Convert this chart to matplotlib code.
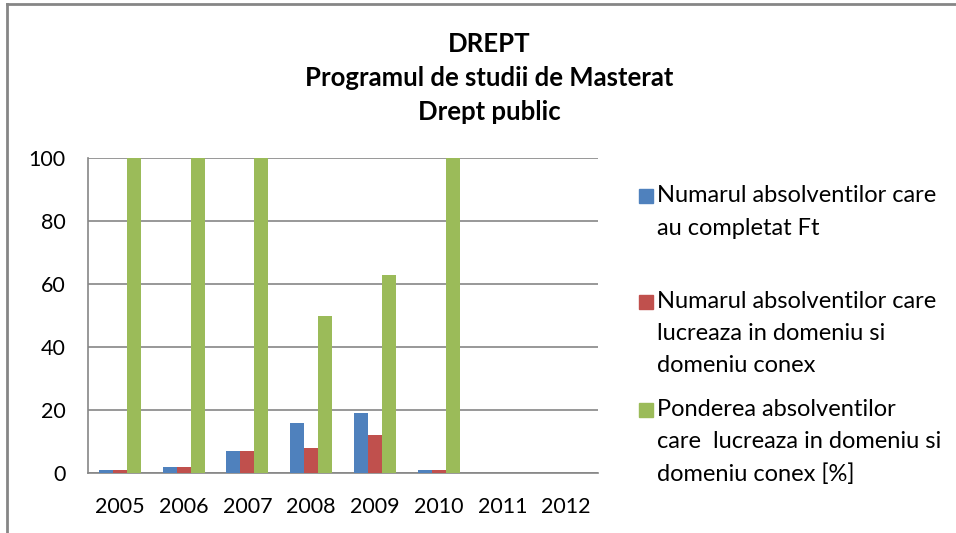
import numpy as np
import matplotlib
matplotlib.use("Agg")
import matplotlib.pyplot as plt
from matplotlib.lines import Line2D
from matplotlib.patches import Rectangle

plt.rcParams['font.family'] = ['Lato', 'DejaVu Sans']

years = ['2005', '2006', '2007', '2008', '2009', '2010', '2011', '2012']
completat = [1, 2, 7, 16, 19, 1, 0, 0]
lucreaza = [1, 2, 7, 8, 12, 1, 0, 0]
pondere = [100, 100, 100, 50, 63, 100, 0, 0]

labels = ['Numarul absolventilor care\nau completat Ft',
          'Numarul absolventilor care\nlucreaza in domeniu si\ndomeniu conex',
          'Ponderea absolventilor\ncare  lucreaza in domeniu si\ndomeniu conex [%]']
colors = ['#4F81BD', '#C0504D', '#9BBB59']

W, H = 956, 533
fig = plt.figure(figsize=(W/100, H/100), dpi=100)
ax = fig.add_axes([88/W, 1-473/H, (598-88)/W, (473-158)/H])

x = np.arange(len(years))
bw = 0.22
for i, vals in enumerate([completat, lucreaza, pondere]):
    ax.bar(x + (i-1)*bw, vals, bw, color=colors[i], zorder=3)

ax.set_xlim(-0.5, len(years)-0.5)
ax.set_ylim(0, 100)
ax.set_yticks(range(0, 101, 20))
ax.set_xticks(x)
ax.set_xticklabels(years)
ax.tick_params(length=0, labelsize=15.5)
ax.tick_params(axis='y', pad=16)
ax.tick_params(axis='x', pad=17)
ax.grid(axis='y', color='#868686', lw=1.2, zorder=0)
for s in ['top', 'right']:
    ax.spines[s].set_visible(False)
for s in ['left', 'bottom']:
    ax.spines[s].set_color('#868686')
    ax.spines[s].set_linewidth(1.2)

# title
for txt, yy in [('DREPT', 44), ('Programul de studii de Masterat', 78), ('Drept public', 112)]:
    fig.text(489/W, 1-yy/H, txt, ha='center', va='center', fontsize=18.5, fontweight='bold')

# legend
leg_y = [[196, 228], [302, 334, 366], [410, 442, 474]]
for i, lab in enumerate(labels):
    lines = lab.split('\n')
    fig.patches.append(Rectangle((639/W, 1-(leg_y[i][0]+7)/H), 14/W, 14/H,
                                 transform=fig.transFigure, color=colors[i]))
    for ln, yy in zip(lines, leg_y[i]):
        fig.text(657/W, 1-yy/H, ln, ha='left', va='center', fontsize=17)

# outer frame
fig.add_artist(Line2D([7/W, 1], [1-4/H, 1-4/H], color='#868686', lw=2, transform=fig.transFigure))
fig.add_artist(Line2D([7/W, 7/W], [0, 1-4/H], color='#868686', lw=2, transform=fig.transFigure))

fig.savefig('out.png', dpi=100)
